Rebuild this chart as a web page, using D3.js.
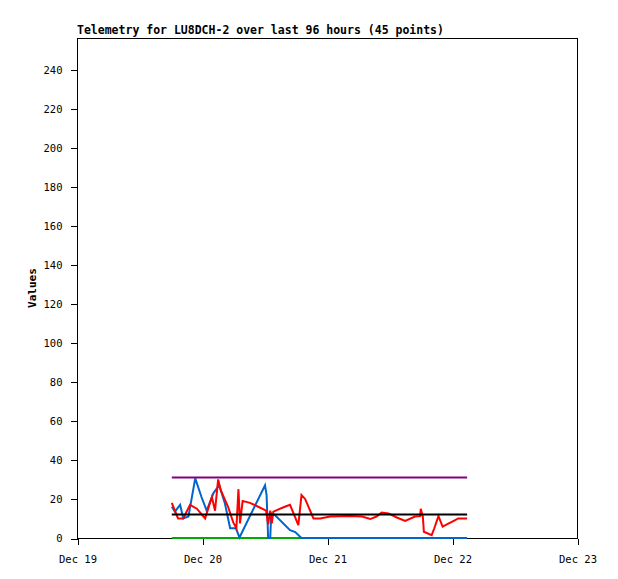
<!DOCTYPE html>
<html>
<head>
<meta charset="utf-8">
<script src="https://cdn.jsdelivr.net/npm/d3@7"></script>
<style>
  body { margin: 0; background: #fff; }
  svg { display: block; }
  text { font-family: "DejaVu Sans Mono", monospace; }
</style>
</head>
<body>
<script>
// hours since Dec 19 00:00 UTC
var redHours = [18.2, 19.4, 20.4, 21.7, 23.0, 24.6, 25.9, 26.5, 27.1, 27.6, 29.0, 30.0, 30.6, 31.0, 31.3, 31.8,
  33.2, 34.8, 36.3, 36.7, 37.1, 37.4, 37.7, 39.9, 40.9, 42.5, 43.1, 43.8, 45.4, 46.7, 48.6, 52.4, 54.7,
  56.3, 57.5, 58.5, 59.8, 61.4, 63.0, 64.9, 65.9, 66.0, 66.4, 66.6, 68.1, 68.6, 69.4, 70.2, 72.6, 73.2, 74.9];
var redValues = [18, 10, 10, 17, 15, 10, 21, 14, 30, 24.5, 16, 8, 5, 25, 7.5, 19,
  18, 16, 14, 7, 14, 7.5, 13.5, 16, 17, 6.6, 22, 20, 10, 10, 11, 11.2, 11,
  9.7, 11, 13, 12.6, 10.5, 8.7, 11, 11.2, 15, 11, 3.2, 1.5, 5, 11.2, 5.8, 9.2, 10, 10];

var blueHours = [18.2, 18.8, 19.8, 20.4, 21.4, 22.7, 23.9, 24.9, 26.2, 27.3, 28.4, 29.4, 30.5, 31.2,
  36.1, 36.4, 36.7, 37.1, 37.3, 38.0, 40.9, 41.9, 43.1, 74.9];
var blueValues = [16, 13.5, 17, 10, 11, 30.5, 21, 14, 23, 27, 17.7, 5, 5, 0.3,
  27, 22, 0, 0, 12.6, 11.7, 4, 3, 0, 0];

var purpleHours = [18.2, 74.9];
var purpleValues = [31, 31];
var blackHours = [18.2, 74.9];
var blackValues = [12, 12];
var greenHours = [18.2, 43.1];
var greenValues = [0, 0];

var yTicks = [0, 20, 40, 60, 80, 100, 120, 140, 160, 180, 200, 220, 240];
var dayTicks = [0, 1, 2, 3, 4];
var title = "Telemetry for LU8DCH-2 over last 96 hours (45 points)";

var base = Date.UTC(2023, 11, 19);
function toDate(h) { return new Date(base + h * 3600e3); }

var w = 618, h = 579;
var mLeft = 77, mRight = 577, mTop = 38, mBottom = 538;

var x = d3.scaleUtc().
  domain([toDate(0), toDate(96)]).
  range([mLeft, mRight]);
var y = d3.scaleLinear().
  domain([0, 256]).
  range([mBottom, mTop]);

var svg = d3.select("body").append("svg").
  attr("width", w).
  attr("height", h);

// frame
svg.append("rect").
  attr("x", mLeft + 0.5).
  attr("y", mTop + 0.5).
  attr("width", mRight - mLeft).
  attr("height", mBottom - mTop).
  attr("fill", "none").
  attr("stroke", "#000").
  attr("shape-rendering", "crispEdges");

// axes
var gy = svg.append("g").
  attr("transform", "translate(" + (mLeft + 0.5) + ",0.5)").
  call(d3.axisLeft(y).tickValues(yTicks).tickSize(7).tickPadding(8));
var gx = svg.append("g").
  attr("transform", "translate(0.5," + (mBottom + 0.5) + ")").
  call(d3.axisBottom(x).
    tickValues(dayTicks.map(function (d) { return toDate(d * 24); })).
    tickFormat(d3.utcFormat("%b %d")).
    tickSize(6).tickPadding(11));
[gx, gy].forEach(function (g) {
  g.select(".domain").remove();
  g.selectAll("line").attr("shape-rendering", "crispEdges");
  g.selectAll("text").
    style("font-family", "'DejaVu Sans Mono', monospace").
    style("font-size", "10.5px").
    attr("fill", "#000");
});

// series
var line = d3.line().
  x(function (d) { return x(toDate(d[0])); }).
  y(function (d) { return y(d[1]); });

var series = [
  { hours: greenHours, values: greenValues, color: "#00aa00" },
  { hours: blueHours, values: blueValues, color: "#0066cc" },
  { hours: redHours, values: redValues, color: "#ff0000" },
  { hours: blackHours, values: blackValues, color: "#000000" },
  { hours: purpleHours, values: purpleValues, color: "#800080" }
];

svg.append("g").
  selectAll("path").
  data(series).
  enter().append("path").
  attr("fill", "none").
  attr("stroke", function (d) { return d.color; }).
  attr("stroke-width", 2).
  attr("stroke-linejoin", "miter").
  attr("d", function (d) {
    return line(d.hours.map(function (hh, i) { return [hh, d.values[i]]; }));
  });

// title and label
svg.append("text").
  attr("x", mLeft).
  attr("y", 34).
  style("font-size", "11.5px").
  style("font-weight", "bold").
  text(title);

svg.append("text").
  attr("transform", "translate(36," + ((mTop + mBottom) / 2) + ") rotate(-90)").
  attr("text-anchor", "middle").
  style("font-size", "11px").
  style("font-weight", "bold").
  text("Values");
</script>
</body>
</html>
